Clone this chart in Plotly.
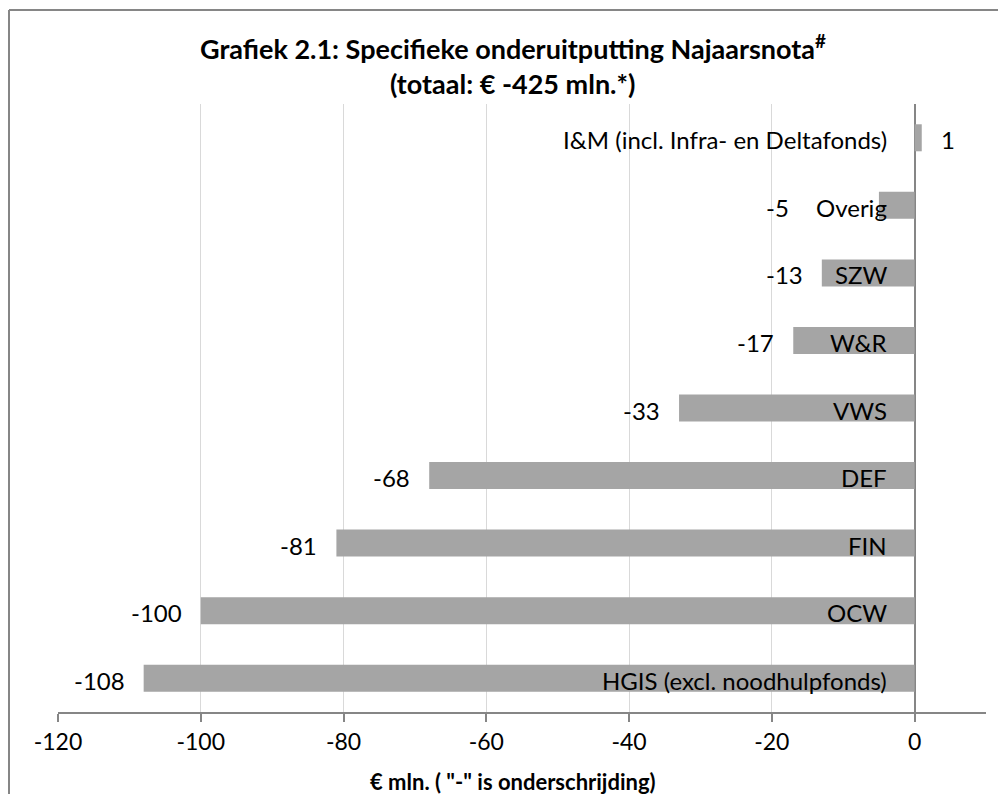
import plotly.graph_objects as go

categories = ["HGIS (excl. noodhulpfonds)", "OCW", "FIN", "DEF", "VWS", "W&R", "SZW", "Overig",
              "I&M (incl. Infra- en Deltafonds)"]
values = [-108, -100, -81, -68, -33, -17, -13, -5, 1]
tick_vals = [-120, -100, -80, -60, -40, -20, 0]
tick_text = ["-120", "-100", "-80", "-60", "-40", "-20", "0"]
title_line1 = "Grafiek 2.1: Specifieke onderuitputting Najaarsnota<sup>#</sup>"
title_line2 = "(totaal: € -425 mln.*)"
x_title = "€ mln. ( \"-\" is onderschrijding)"

FONT = "Lato"
BAR = "#a5a5a5"
AXIS = "#868686"
GRID = "#d9d9d9"
LABEL_SIZE = 24

fig = go.Figure()
fig.add_trace(go.Bar(
    x=values, y=categories, orientation="h",
    marker=dict(color=BAR, line=dict(width=0)),
    hoverinfo="x+y",
))

annotations = []
for cat, v in zip(categories, values):
    annotations.append(dict(x=0, y=cat, xref="x", yref="y", text=cat, showarrow=False,
                            xanchor="right", xshift=-26, yshift=-2,
                            font=dict(family=FONT, size=LABEL_SIZE, color="black")))
    if v >= 0:
        annotations.append(dict(x=v, y=cat, xref="x", yref="y", text=str(v), showarrow=False,
                                xanchor="left", xshift=17, yshift=-2,
                                font=dict(family=FONT, size=LABEL_SIZE, color="black")))
    else:
        shift = -17
        if cat == "Overig":
            shift = -88  # pushed left to clear the category label
        annotations.append(dict(x=v, y=cat, xref="x", yref="y", text=str(v), showarrow=False,
                                xanchor="right", xshift=shift, yshift=-2,
                                font=dict(family=FONT, size=LABEL_SIZE, color="black")))

# title lines and axis title
annotations.append(dict(x=0.49, y=1.0945, xref="paper", yref="paper", text="<b>" + title_line1 + "</b>",
                        showarrow=False, xanchor="center", yanchor="middle",
                        font=dict(family=FONT, size=27, color="black")))
annotations.append(dict(x=0.49, y=1.0335, xref="paper", yref="paper", text="<b>" + title_line2 + "</b>",
                        showarrow=False, xanchor="center", yanchor="middle",
                        font=dict(family=FONT, size=27, color="black")))
annotations.append(dict(x=0.49, y=-0.1135, xref="paper", yref="paper", text="<b>" + x_title + "</b>",
                        showarrow=False, xanchor="center", yanchor="middle",
                        font=dict(family=FONT, size=22, color="black")))

fig.update_layout(
    width=998, height=786,
    margin=dict(l=50, r=20, t=96, b=82),
    paper_bgcolor="white", plot_bgcolor="white",
    showlegend=False,
    bargap=0.6,
    xaxis=dict(range=[-120, 10], tickvals=tick_vals, ticktext=tick_text,
               showgrid=True, gridcolor=GRID, gridwidth=1,
               zeroline=True, zerolinecolor=AXIS, zerolinewidth=2,
               showline=True, linecolor=AXIS, linewidth=2,
               ticks="outside", ticklen=8, tickcolor=AXIS, tickwidth=2,
               tickfont=dict(family=FONT, size=23, color="black")),
    yaxis=dict(showticklabels=False, showgrid=False, zeroline=False, showline=False,
               categoryorder="array", categoryarray=categories),
    annotations=annotations,
    shapes=[
        dict(type="line", xref="paper", yref="paper", x0=-0.0528, x1=1.1, y0=1.1546, y1=1.1546,
             line=dict(color=AXIS, width=2), layer="above"),
        dict(type="line", xref="paper", yref="paper", x0=-0.0528, x1=-0.0528, y0=-0.2, y1=1.1546,
             line=dict(color=AXIS, width=2), layer="above"),
    ],
)

fig.write_html("out.html")
